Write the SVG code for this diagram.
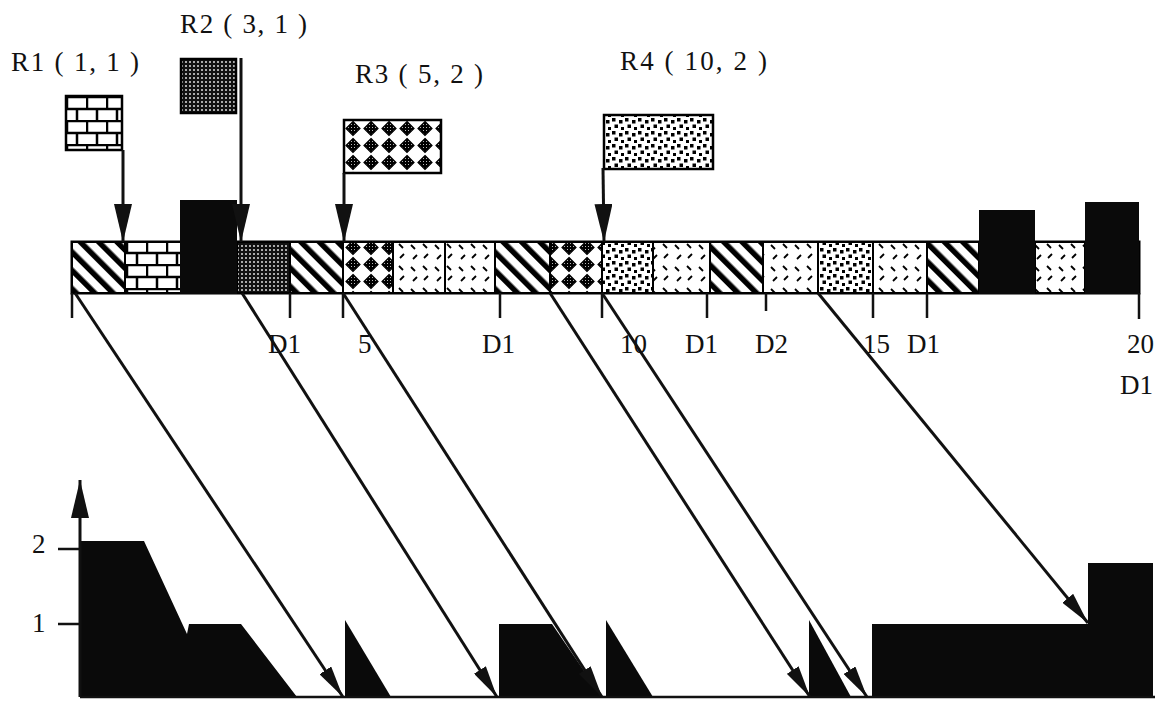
<svg xmlns="http://www.w3.org/2000/svg" width="1170" height="701" viewBox="0 0 1170 701">
<style>
.t{font-family:"Liberation Serif","Times New Roman",serif;font-size:27px;fill:#111}
.cell{stroke:#000;stroke-width:2}
.ln{stroke:#111;stroke-width:3;fill:none}
.tk{stroke:#111;stroke-width:2.5}
.blk{fill:#0a0a0a}
.flag{stroke:#000;stroke-width:2.5}
</style>
<defs>
<pattern id="stripes" width="13" height="13" patternUnits="userSpaceOnUse" patternTransform="rotate(-45)">
<rect width="13" height="13" fill="#fff"/><rect x="0" y="0" width="5.5" height="13" fill="#000"/>
</pattern>
<pattern id="brick" width="20" height="24" patternUnits="userSpaceOnUse" x="66" y="96">
<rect width="20" height="24" fill="#fff"/>
<path d="M0,1 H20 M0,13 H20 M1,1 V13 M11,13 V24" stroke="#000" stroke-width="2.5"/>
</pattern>
<pattern id="dense" width="4" height="4" patternUnits="userSpaceOnUse">
<rect width="4" height="4" fill="#111"/><circle cx="2" cy="2" r="1" fill="#ddd"/>
</pattern>
<pattern id="dense2" width="3" height="3" patternUnits="userSpaceOnUse">
<rect width="3" height="3" fill="#000"/><rect x="1" y="1" width="1" height="1" fill="#bbb"/>
</pattern>
<pattern id="diamond" width="18" height="17" patternUnits="userSpaceOnUse" x="344" y="120">
<rect width="18" height="17" fill="#fff"/>
<polygon points="9,1.5 16,8.5 9,15.5 2,8.5" fill="url(#dense2)" stroke="#000" stroke-width="1.2"/>
</pattern>
<pattern id="dashes" width="24" height="22" patternUnits="userSpaceOnUse">
<rect width="24" height="22" fill="#fff"/>
<path d="M3,3 L7,7 M15,2 L19,6 M20,12 L16,16 M9,13 L5,17" stroke="#000" stroke-width="1.8"/>
</pattern>
<pattern id="dots" width="13" height="13" patternUnits="userSpaceOnUse">
<rect width="13" height="13" fill="#fff"/>
<g fill="#000"><rect x="1" y="1" width="3.5" height="3.5"/><rect x="8" y="3" width="3.5" height="3.5"/><rect x="3.5" y="7.5" width="3.5" height="3.5"/><rect x="10" y="10" width="3" height="3"/></g>
</pattern>
<marker id="ahv" markerWidth="38" markerHeight="18" refX="38" refY="9" orient="auto" markerUnits="userSpaceOnUse">
<path d="M0,0 L38,9 L0,18 z" fill="#111"/>
</marker>
<marker id="ahd" markerWidth="32" markerHeight="14" refX="32" refY="7" orient="auto" markerUnits="userSpaceOnUse">
<path d="M0,0 L32,7 L0,14 z" fill="#111"/>
</marker>
</defs>
<rect width="1170" height="701" fill="#fff"/>

<!-- request labels and flags -->
<g id="R1">
<text class="t" x="11" y="71" textLength="128" lengthAdjust="spacing">R1 ( 1, 1 )</text>
<rect class="flag" x="66" y="96" width="56" height="54" fill="url(#brick)"/>
</g>
<g id="R2">
<text class="t" x="180" y="33" textLength="127" lengthAdjust="spacing">R2 ( 3, 1 )</text>
<rect class="flag" x="181" y="59" width="55" height="54" fill="url(#dense)"/>
</g>
<g id="R3">
<text class="t" x="355" y="83" textLength="128" lengthAdjust="spacing">R3 ( 5, 2 )</text>
<rect class="flag" x="344" y="120" width="97" height="53" fill="url(#diamond)"/>
</g>
<g id="R4">
<text class="t" x="620" y="70" textLength="147" lengthAdjust="spacing">R4 ( 10, 2 )</text>
<rect class="flag" x="604" y="115" width="109" height="54" fill="url(#dots)"/>
</g>

<!-- timeline bar -->
<g id="bar">
<rect x="72" y="242" width="1067" height="51" fill="#fff" stroke="#000" stroke-width="3"/>
<rect class="cell" x="72" y="242" width="53" height="51" fill="url(#stripes)"/>
<rect class="cell" x="125" y="242" width="56" height="51" fill="url(#brick)"/>
<rect class="cell" x="237" y="242" width="53" height="51" fill="url(#dense)"/>
<rect class="cell" x="290" y="242" width="53" height="51" fill="url(#stripes)"/>
<rect class="cell" x="343" y="242" width="50" height="51" fill="url(#diamond)"/>
<rect class="cell" x="393" y="242" width="52" height="51" fill="url(#dashes)"/>
<rect class="cell" x="445" y="242" width="50" height="51" fill="url(#dashes)"/>
<rect class="cell" x="495" y="242" width="55" height="51" fill="url(#stripes)"/>
<rect class="cell" x="550" y="242" width="52" height="51" fill="url(#diamond)"/>
<rect class="cell" x="602" y="242" width="51" height="51" fill="url(#dots)"/>
<rect class="cell" x="653" y="242" width="57" height="51" fill="url(#dashes)"/>
<rect class="cell" x="710" y="242" width="53" height="51" fill="url(#stripes)"/>
<rect class="cell" x="763" y="242" width="55" height="51" fill="url(#dashes)"/>
<rect class="cell" x="818" y="242" width="55" height="51" fill="url(#dots)"/>
<rect class="cell" x="873" y="242" width="54" height="51" fill="url(#dashes)"/>
<rect class="cell" x="927" y="242" width="52" height="51" fill="url(#stripes)"/>
<rect class="cell" x="1035" y="242" width="50" height="51" fill="url(#dashes)"/>
<rect class="blk" x="180" y="200" width="57" height="94"/>
<rect class="blk" x="979" y="210" width="56" height="84"/>
<rect class="blk" x="1085" y="202" width="54" height="92"/>
</g>

<!-- ticks and labels -->
<g id="axis-top">
<path class="tk" d="M72,293 V318 M290,293 V318 M343,293 V318 M500,293 V318 M602,293 V318 M707,293 V318 M766,293 V311 M873,293 V318 M927,293 V318 M1139,293 V319"/>
<text class="t" x="268" y="353">D1</text>
<text class="t" x="358" y="353">5</text>
<text class="t" x="482" y="353">D1</text>
<text class="t" x="620" y="353">10</text>
<text class="t" x="685" y="353">D1</text>
<text class="t" x="755" y="353">D2</text>
<text class="t" x="863" y="353">15</text>
<text class="t" x="907" y="353">D1</text>
<text class="t" x="1127" y="353">20</text>
<text class="t" x="1120" y="394">D1</text>
</g>

<!-- bottom chart -->
<g id="chart">
<polygon class="blk" points="80,541 144,541 187,634 189,624 241,624 297,697 80,697"/>
<polygon class="blk" points="345,620 345,697 391,697"/>
<polygon class="blk" points="499,624 552,624 602,697 499,697"/>
<polygon class="blk" points="606,620 606,697 653,697"/>
<polygon class="blk" points="809,620 809,697 851,697"/>
<polygon class="blk" points="872,624 1088,624 1088,563 1153,563 1153,697 872,697"/>
<line x1="80" y1="697" x2="1155" y2="697" stroke="#111" stroke-width="2.5"/>
<line x1="80" y1="697" x2="80" y2="480" class="ln" marker-end="url(#ahv)"/>
<path class="tk" d="M58,549 H80 M58,624 H80"/>
<text class="t" x="32" y="553">2</text>
<text class="t" x="32" y="632">1</text>
</g>

<!-- connectors -->
<g id="connectors">
<line class="ln" x1="123" y1="150" x2="123" y2="242" marker-end="url(#ahv)"/>
<line class="ln" x1="241" y1="58" x2="241" y2="242" marker-end="url(#ahv)"/>
<line class="ln" x1="344" y1="173" x2="344" y2="242" marker-end="url(#ahv)"/>
<line class="ln" x1="603" y1="168" x2="604" y2="242" marker-end="url(#ahv)"/>
<line class="ln" x1="75" y1="293" x2="343" y2="697" marker-end="url(#ahd)"/>
<line class="ln" x1="242" y1="293" x2="497" y2="697" marker-end="url(#ahd)"/>
<line class="ln" x1="343" y1="293" x2="602" y2="697" marker-end="url(#ahd)"/>
<line class="ln" x1="550" y1="293" x2="810" y2="697" marker-end="url(#ahd)"/>
<line class="ln" x1="602" y1="293" x2="867" y2="697" marker-end="url(#ahd)"/>
<line class="ln" x1="818" y1="293" x2="1088" y2="623" marker-end="url(#ahd)"/>
</g>
</svg>
